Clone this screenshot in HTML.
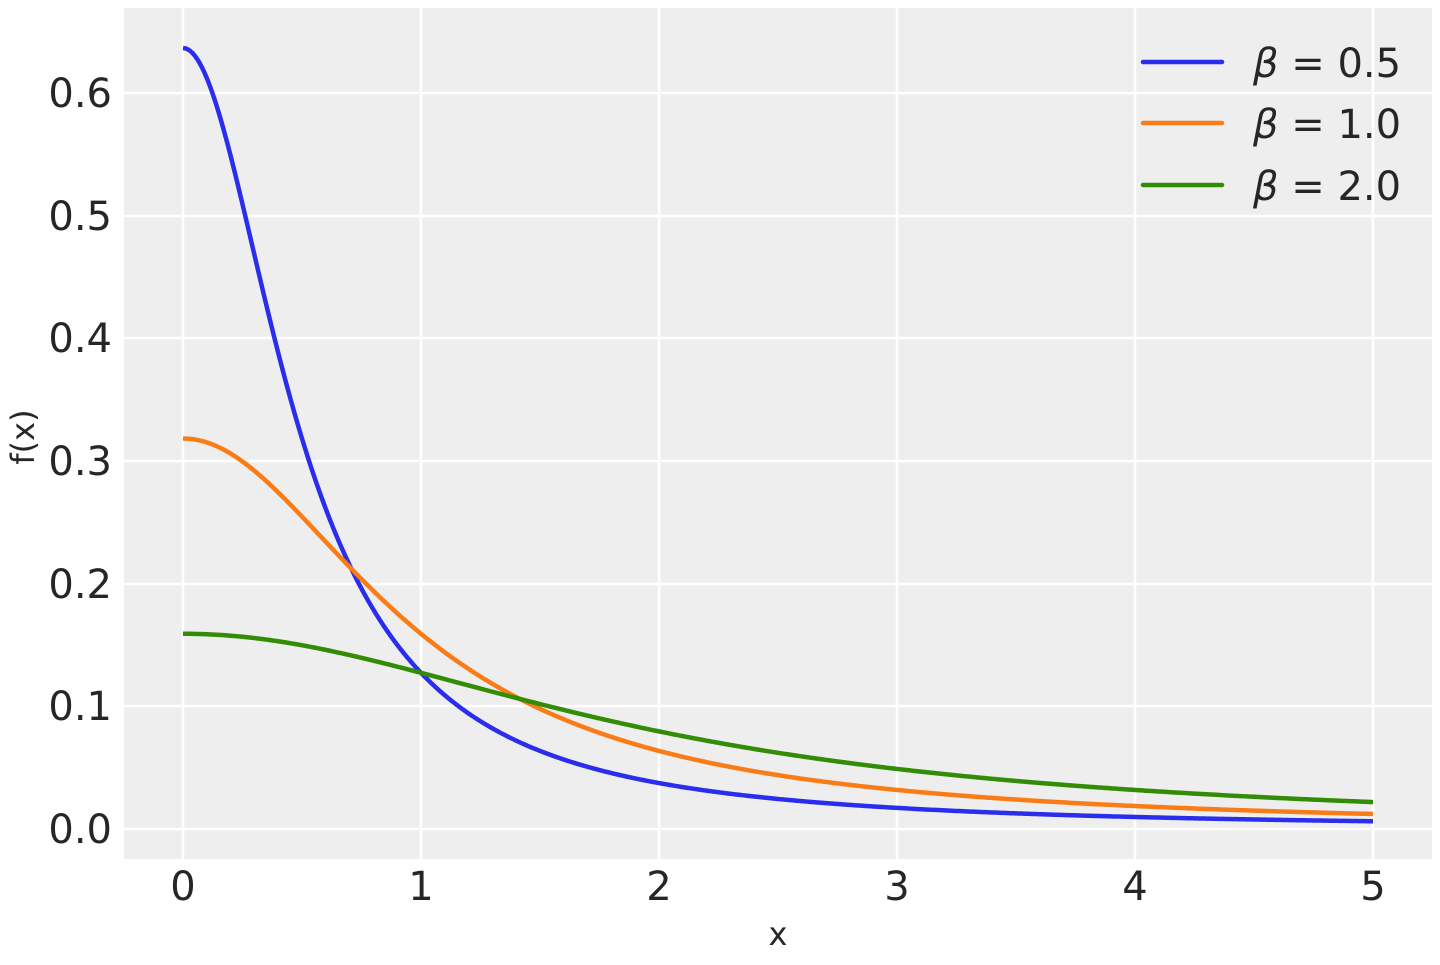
<!DOCTYPE html>
<html><head><meta charset="utf-8"><style>
html,body{margin:0;padding:0;background:#fff;}
svg text{font-family:"DejaVu Sans","Liberation Sans",sans-serif;fill:#262626;}
</style></head><body>
<svg id="s" width="1440" height="960" xmlns="http://www.w3.org/2000/svg">
<rect x="124" y="8" width="1308" height="851" fill="#eeeeee"/>
<g stroke="#fff" stroke-width="2.5">
<line x1="183" y1="8" x2="183" y2="859"/><line x1="421" y1="8" x2="421" y2="859"/>
<line x1="659" y1="8" x2="659" y2="859"/><line x1="897" y1="8" x2="897" y2="859"/>
<line x1="1135" y1="8" x2="1135" y2="859"/><line x1="1373" y1="8" x2="1373" y2="859"/>
<line x1="124" y1="829" x2="1432" y2="829"/><line x1="124" y1="706" x2="1432" y2="706"/>
<line x1="124" y1="584" x2="1432" y2="584"/><line x1="124" y1="461" x2="1432" y2="461"/>
<line x1="124" y1="338" x2="1432" y2="338"/><line x1="124" y1="216" x2="1432" y2="216"/>
<line x1="124" y1="93" x2="1432" y2="93"/>
</g>
<g font-size="40" text-anchor="middle">
<text x="183" y="900">0</text><text x="421" y="900">1</text><text x="659" y="900">2</text>
<text x="897" y="900">3</text><text x="1135" y="900">4</text><text x="1373" y="900">5</text>
</g>
<g font-size="40" text-anchor="end">
<text x="112" y="843">0.0</text><text x="112" y="720">0.1</text><text x="112" y="598">0.2</text>
<text x="112" y="475">0.3</text><text x="112" y="352">0.4</text><text x="112" y="230">0.5</text>
<text x="112" y="107">0.6</text>
</g>
<text x="778" y="945" font-size="32" text-anchor="middle">x</text>
<text transform="translate(34,437) rotate(-90)" font-size="32" text-anchor="middle">f(x)</text>
<g id="curves" fill="none" stroke-width="4.5" stroke-linejoin="round"></g>
<g stroke-width="4.5" stroke-linecap="round">
<line x1="1143" y1="62" x2="1222" y2="62" stroke="#2a2eec"/>
<line x1="1143" y1="123" x2="1222" y2="123" stroke="#fa7c17"/>
<line x1="1143" y1="185" x2="1222" y2="185" stroke="#328c06"/>
</g>
<g font-size="40">
<text x="1253" y="77"><tspan font-style="italic">β</tspan> = 0.5</text>
<text x="1253" y="138"><tspan font-style="italic">β</tspan> = 1.0</text>
<text x="1253" y="200"><tspan font-style="italic">β</tspan> = 2.0</text>
</g>
</svg>
<script>
var g=document.getElementById('curves');
[[0.5,'#2a2eec'],[1,'#fa7c17'],[2,'#328c06']].forEach(function(b){
 var d='';
 for(var i=0;i<=500;i++){var x=i/100;var y=1/(Math.PI*b[0]*(1+(x/b[0])*(x/b[0])));
  d+=(i?'L':'M')+(183+238*x).toFixed(2)+' '+(829-1226.7*y).toFixed(2);}
 var p=document.createElementNS('http://www.w3.org/2000/svg','path');
 p.setAttribute('d',d);p.setAttribute('stroke',b[1]);g.appendChild(p);
});
</script>
</body></html>
